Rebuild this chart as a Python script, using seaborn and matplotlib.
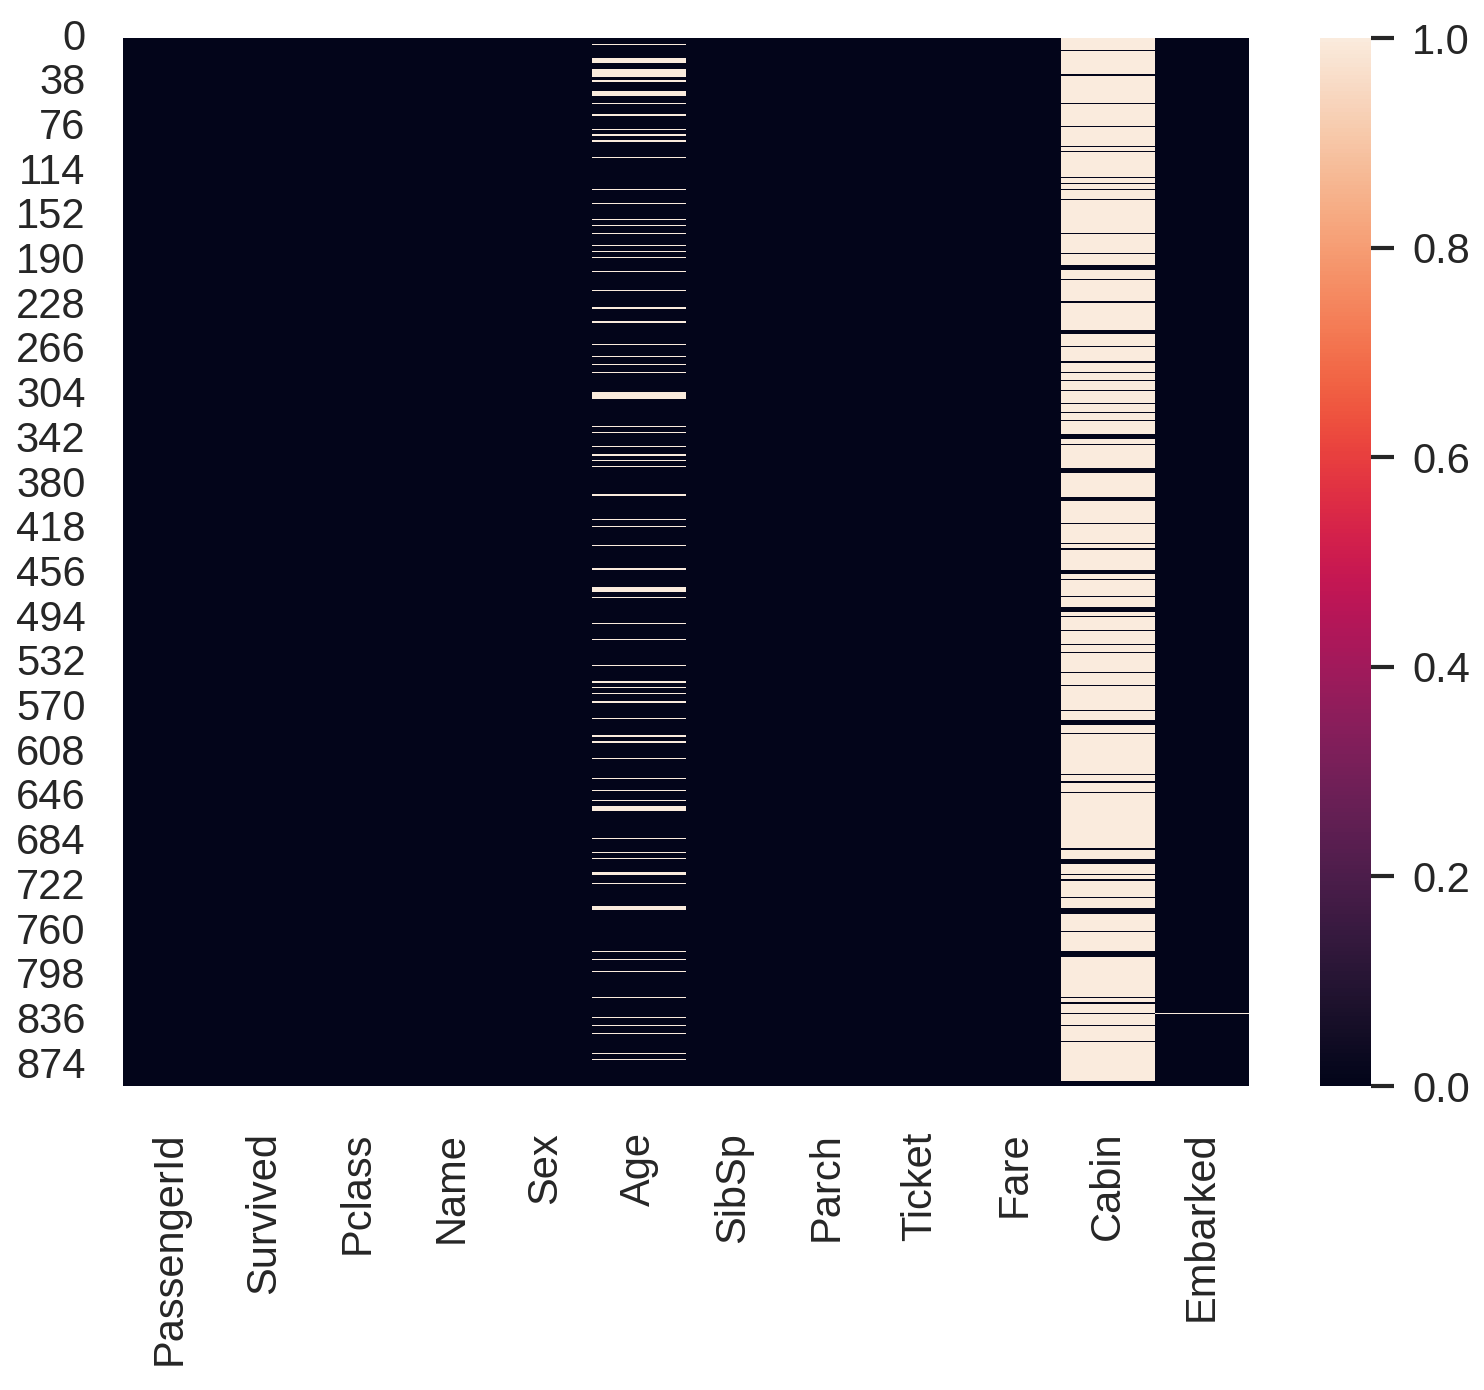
import numpy as np
import pandas as pd
import matplotlib
matplotlib.use("Agg")
import matplotlib.pyplot as plt
import seaborn as sns

# ---- data ----
columns = ["PassengerId", "Survived", "Pclass", "Name", "Sex", "Age",
           "SibSp", "Parch", "Ticket", "Fare", "Cabin", "Embarked"]
n_rows = 891

# rows where Age is missing (white lines in the Age column)
age_missing_rows = [5, 17, 18, 19, 20, 26, 27, 28, 29, 30, 31, 32, 36,
                    45, 46, 47, 48, 55, 65, 77, 82, 87, 101, 128, 140, 154,
                    159, 166, 176, 181, 186, 198, 214, 229, 241, 260, 270,
                    277, 284, 301, 302, 303, 304, 305, 306, 330, 335, 347,
                    354, 359, 364, 388, 409, 415, 431, 451, 467, 468, 469,
                    470, 475, 497, 511, 533, 547, 552, 557, 564, 578, 593,
                    598, 612, 629, 639, 648, 653, 654, 655, 656, 680, 692,
                    697, 709, 710, 711, 718, 738, 739, 740, 776, 783, 793,
                    815, 832, 839, 846, 863, 868]

# rows where Cabin is present (dark lines in the otherwise white Cabin column)
cabin_present_rows = [10, 31, 55, 75, 92, 96, 118, 123, 128, 137, 166, 183,
                      193, 194, 195, 196, 205, 224, 248, 249, 250, 251, 262,
                      275, 284, 291, 299, 310, 318, 325, 337, 338, 339, 340,
                      345, 366, 367, 368, 369, 390, 391, 392, 393, 412, 429,
                      434, 452, 453, 454, 455, 460, 474, 484, 485, 486, 487,
                      491, 503, 515, 522, 539, 550, 571, 580, 581, 582, 583,
                      591, 626, 632, 641, 689, 698, 699, 700, 701, 711, 715,
                      716, 730, 740, 741, 742, 743, 744, 759, 776, 777, 778,
                      779, 780, 815, 820, 829, 839, 853, 887, 888, 889, 890]

# rows where Embarked is missing
embarked_missing_rows = [829]

ytick_step = 38

# ---- build the missing-value table ----
missing = pd.DataFrame(False, index=range(n_rows), columns=columns)
missing.loc[age_missing_rows, "Age"] = True
missing["Cabin"] = True
missing.loc[cabin_present_rows, "Cabin"] = False
missing.loc[embarked_missing_rows, "Embarked"] = True

# ---- style ----
sns.set_theme(style="white")
plt.rcParams["font.family"] = ["Liberation Sans", "DejaVu Sans"]
text_color = "#262626"

W, H = 1484, 1390
fig = plt.figure(figsize=(W / 100, H / 100), dpi=100)
ax = fig.add_axes([123 / W, (H - 1086) / H, 1126 / W, 1048 / H])
cax = fig.add_axes([1320 / W, (H - 1086) / H, 51 / W, 1048 / H])

sns.heatmap(missing.astype(float), cmap="rocket", ax=ax, cbar_ax=cax,
            yticklabels=ytick_step, xticklabels=True)

fs = 30
ax.tick_params(axis="y", length=0, pad=27, labelsize=fs, labelcolor=text_color,
               labelrotation=0)
ax.tick_params(axis="x", length=0, pad=33, labelsize=fs, labelcolor=text_color,
               labelrotation=90)
for t in ax.get_xticklabels():
    t.set_rotation(90)
for t in ax.get_yticklabels():
    t.set_rotation(0)

cax.tick_params(axis="y", length=16.5, width=3, color=text_color, pad=13,
                labelsize=fs, labelcolor=text_color, right=True)
for s in cax.spines.values():
    s.set_visible(False)

fig.savefig("out.png", dpi=100)
